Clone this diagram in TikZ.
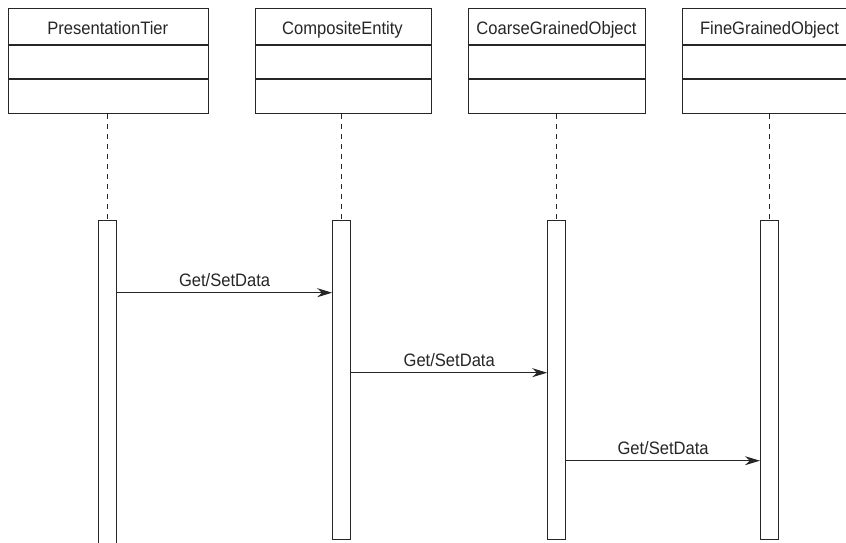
\documentclass[tikz,border=0pt]{standalone}
\usepackage{fontspec}
\setmainfont[FakeStretch=0.92]{Liberation Sans}
\usetikzlibrary{arrows.meta}
\begin{document}
\begin{tikzpicture}[x=1pt,y=-1pt,
  line width=1.1pt, draw=black!85,
  classbox/.style={draw, line width=1.1pt, minimum width=#1, minimum height=105pt, anchor=north west, inner sep=0pt},
  title/.style={anchor=base, inner sep=0pt, font=\fontsize{18}{20}\selectfont, text=black!85},
  bar/.style={draw, line width=1.1pt, minimum width=18pt, anchor=north, inner sep=0pt, fill=white},
  life/.style={draw, line width=1pt, dash pattern=on 5pt off 5pt},
  msg/.style={draw, line width=1.1pt, -{Stealth[length=15pt,width=9pt]}},
  lbl/.style={anchor=base, inner sep=0pt, font=\fontsize{18}{20}\selectfont, text=black!85}]
\useasboundingbox (0,0) rectangle (846,543);
% class boxes
\node[classbox=200.5pt] (pt) at (7.5,8) {};
\node[classbox=176pt] (ce) at (254.5,8) {};
\node[classbox=177pt] (cgo) at (468,8) {};
\node[classbox=175pt] (fgo) at (682,8) {};
\foreach \b in {pt,ce,cgo,fgo}{
  \draw ([yshift=-37pt]\b.north west) -- ([yshift=-37pt]\b.north east);
  \draw ([yshift=-71pt]\b.north west) -- ([yshift=-71pt]\b.north east);
}
\node[title] (tpt) at (107.75,34.3) {PresentationTier};
\node[title] (tce) at (342.5,34.3) {CompositeEntity};
\node[title] (tcgo) at (556.5,34.3) {CoarseGrainedObject};
\node[title] (tfgo) at (769.5,34.3) {FineGrainedObject};
% activation bars
\node[bar, minimum height=335pt] (ptbar) at (107.5,220) {};
\node[bar, minimum height=319pt] (cebar) at (341.7,220) {};
\node[bar, minimum height=319pt] (cgobar) at (556.7,220) {};
\node[bar, minimum height=319pt] (fgobar) at (769.5,220) {};
% lifelines
\draw[life] (pt.south -| ptbar.north) -- (ptbar.north);
\draw[life] (ce.south -| cebar.north) -- (cebar.north);
\draw[life] (cgo.south -| cgobar.north) -- (cgobar.north);
\draw[life] (fgo.south -| fgobar.north) -- (fgobar.north);
% messages
\coordinate (y1) at (0,292.7);
\coordinate (y2) at (0,372.7);
\coordinate (y3) at (0,460.7);
\draw[msg] (ptbar.east |- y1) -- node[lbl, above=6pt, anchor=base] (m1) {Get/SetData} (cebar.west |- y1);
\draw[msg] (cebar.east |- y2) -- node[lbl, above=6pt, anchor=base] (m2) {Get/SetData} (cgobar.west |- y2);
\draw[msg] (cgobar.east |- y3) -- node[lbl, above=6pt, anchor=base] (m3) {Get/SetData} (fgobar.west |- y3);
\end{tikzpicture}
\end{document}
